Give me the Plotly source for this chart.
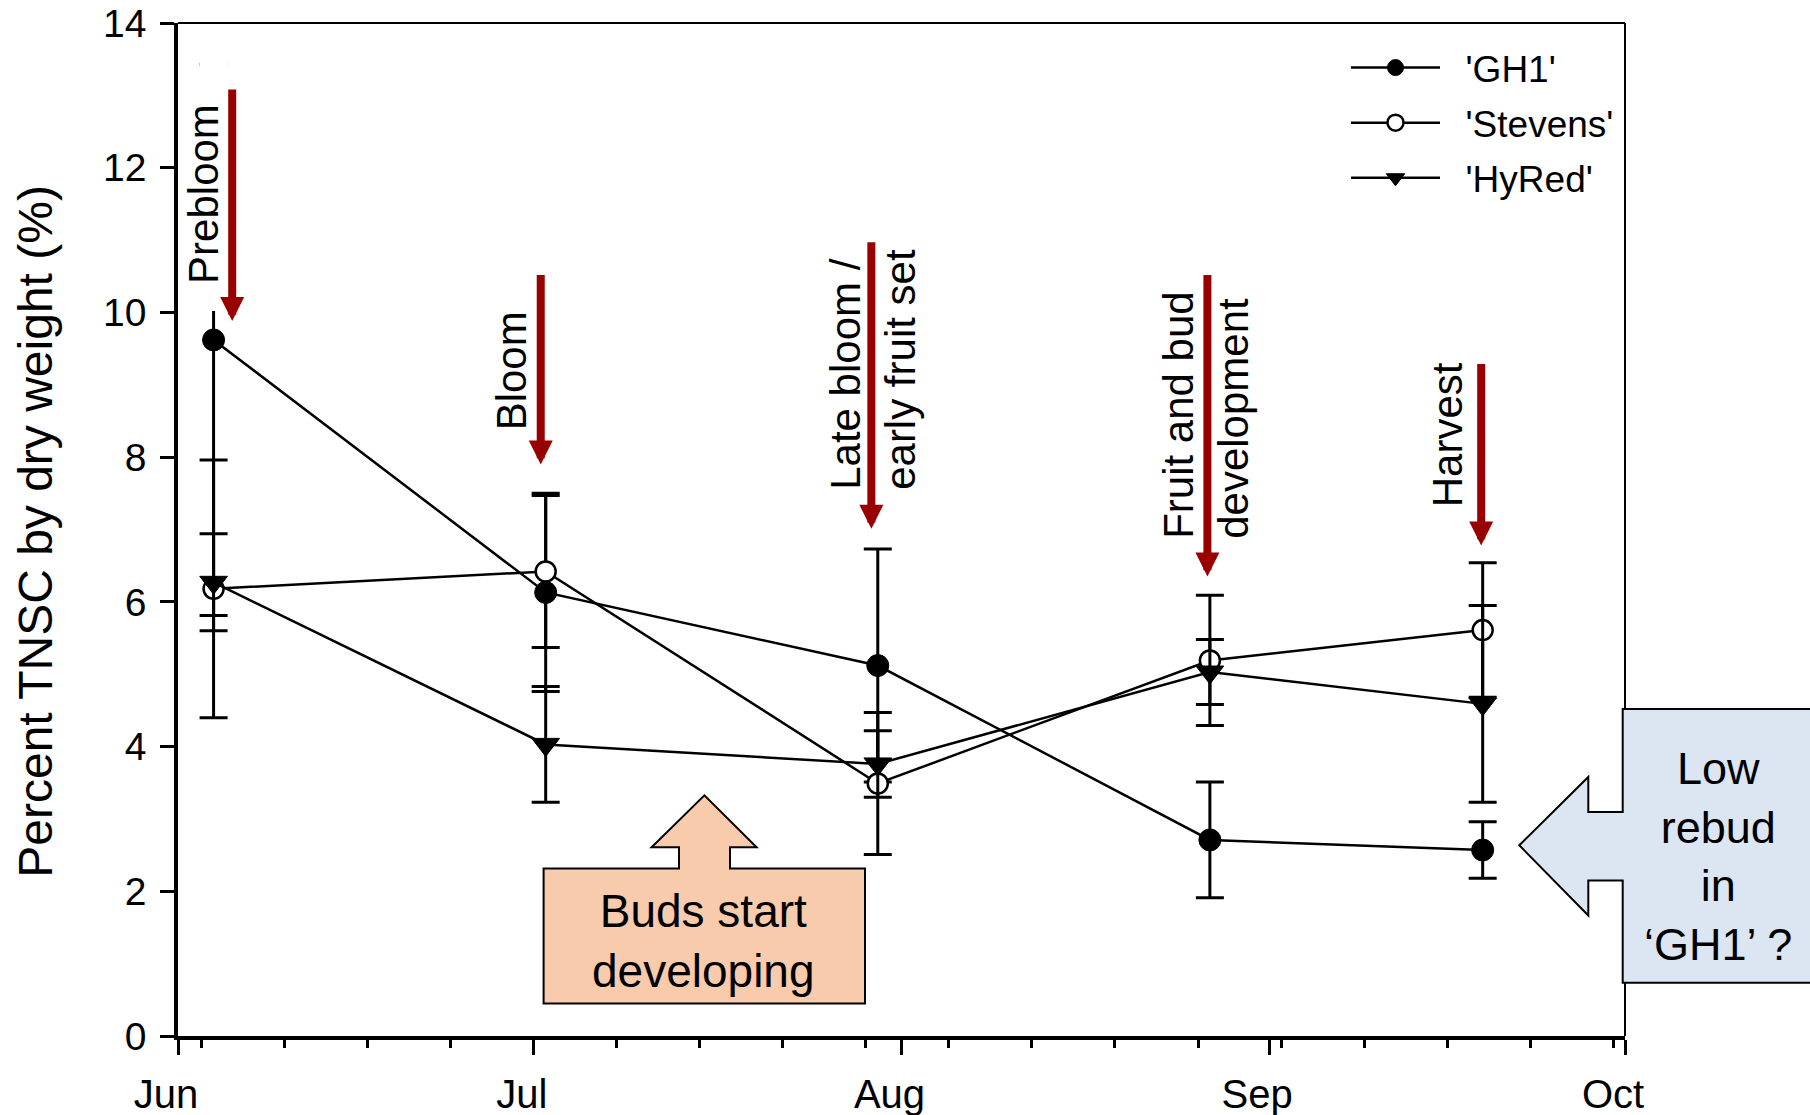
import plotly.graph_objects as go

# ---------------- data ----------------
sample_dates = ["2015-06-04", "2015-07-02", "2015-07-30", "2015-08-27", "2015-09-19"]

gh1 = [9.62, 6.13, 5.12, 2.71, 2.57]
gh1_err = [3.81, 1.37, 1.61, 0.80, 0.39]

stevens = [6.18, 6.42, 3.49, 5.19, 5.61]
stevens_err = [1.78, 1.05, 0.98, 0.90, 0.93]

hyred = [6.27, 4.03, 3.76, 5.03, 4.59]
hyred_err = [0.67, 0.80, 0.46, 0.45, 1.36]

month_ticks = ["2015-06-01", "2015-07-01", "2015-08-01", "2015-09-01", "2015-10-01"]
month_labels = ["Jun", "Jul", "Aug", "Sep", "Oct"]
y_ticks = [0, 2, 4, 6, 8, 10, 12, 14]

stage_labels = ["Prebloom", "Bloom", "Late bloom /<br>early fruit set",
                "Fruit and bud<br>development", "Harvest"]
stage_arrow_x = ["2015-06-05 13:40", "2015-07-01 14:00", "2015-07-29 11:00",
                 "2015-08-26 19:00", "2015-09-18 21:00"]
stage_arrow_y = [9.88, 7.90, 7.01, 6.35, 6.78]
stage_arrow_len = [233, 191, 288, 303, 183]
stage_label_pos = [(204, 194), (511.5, 371), (873, 370), (1206, 415), (1447.5, 435)]

FONT = "Liberation Sans, Arial, sans-serif"
W, H = 1810, 1115
L, R, T, B = 178, 1625, 23, 1036.5


def px(x):
    return (x - L) / (R - L)


def py(y):
    return (B - y) / (B - T)


fig = go.Figure()

common_err = dict(type="data", visible=True, color="black", thickness=3, width=14)
NB = "\u00a0\u00a0"

fig.add_trace(go.Scatter(
    x=sample_dates, y=gh1, name=NB + "'GH1'", mode="lines+markers",
    line=dict(color="black", width=2.5),
    marker=dict(symbol="circle", size=22, color="black", line=dict(color="black", width=1)),
    error_y=dict(array=gh1_err, **common_err), legendgroup="a"))

fig.add_trace(go.Scatter(
    x=sample_dates, y=stevens, name=NB + "'Stevens'", mode="lines+markers",
    line=dict(color="black", width=2.5),
    marker=dict(symbol="circle", size=20, color="white", line=dict(color="black", width=2.5)),
    error_y=dict(array=stevens_err, **common_err), legendgroup="b"))

fig.add_trace(go.Scatter(
    x=sample_dates, y=hyred, name=NB + "'HyRed'", mode="lines+markers",
    line=dict(color="black", width=2.5),
    marker=dict(symbol="triangle-down", size=24, color="black", line=dict(color="black", width=1)),
    error_y=dict(array=hyred_err, **common_err), legendgroup="c"))

shapes = []
# occluding white box (label background) over the top of the first GH1 error bar
shapes.append(dict(type="rect", xref="x", yref="y", x0="2015-06-02 19:30", x1="2015-06-05 05:00",
                   y0=10.02, y1=13.7, fillcolor="white", line=dict(width=0), layer="above"))
# top and right frame
shapes.append(dict(type="line", xref="paper", yref="paper", x0=0, x1=1, y0=1, y1=1,
                   line=dict(color="black", width=2), layer="above"))
shapes.append(dict(type="line", xref="paper", yref="paper", x0=1, x1=1, y0=0, y1=1,
                   line=dict(color="black", width=2), layer="above"))


def path_from_px(points):
    s = ""
    for i, (a, b) in enumerate(points):
        s += ("M" if i == 0 else "L") + f"{px(a):.5f},{py(b):.5f} "
    return s + "Z"


buds_pts = [(543.6, 1004), (543.6, 869), (679, 869), (679, 847.7), (651.6, 847.7),
            (704.4, 795.7), (756.6, 847.7), (730, 847.7), (730, 869), (865, 869), (865, 1004)]
shapes.append(dict(type="path", xref="paper", yref="paper", path=path_from_px(buds_pts),
                   fillcolor="#F8CBAD", line=dict(color="black", width=2), layer="above"))

low_pts = [(1519.3, 845.7), (1588.3, 777.3), (1588.3, 812.3), (1622.7, 812.3), (1622.7, 709.3),
           (1815, 709.3), (1815, 983.3), (1622.7, 983.3), (1622.7, 881), (1588.3, 881), (1588.3, 916)]
shapes.append(dict(type="path", xref="paper", yref="paper", path=path_from_px(low_pts),
                   fillcolor="#DCE6F2", line=dict(color="black", width=2), layer="above"))

annotations = []
# y-axis title
annotations.append(dict(text="Percent TNSC by dry weight (%)", xref="paper", yref="paper",
                        x=px(36), y=py(532), textangle=-90, showarrow=False,
                        font=dict(size=48, color="black", family=FONT),
                        xanchor="center", yanchor="middle"))
# stage arrows
for ax_, ay_, ln in zip(stage_arrow_x, stage_arrow_y, stage_arrow_len):
    annotations.append(dict(x=ax_, y=ay_, xref="x", yref="y", text="", showarrow=True,
                            arrowhead=2, arrowsize=0.6, arrowwidth=8, arrowcolor="#990000",
                            ax=0, ay=-ln, axref="pixel", ayref="pixel", standoff=0))
# stage labels
for txt, (lx, ly) in zip(stage_labels, stage_label_pos):
    annotations.append(dict(text=txt, xref="paper", yref="paper", x=px(lx), y=py(ly),
                            textangle=-90, showarrow=False, align="left",
                            font=dict(size=42, color="black", family=FONT),
                            xanchor="center", yanchor="middle"))
# callout texts
annotations.append(dict(text="Buds start<br>developing", xref="paper", yref="paper",
                        x=px(703), y=py(941), showarrow=False, align="center",
                        font=dict(size=46, color="black", family=FONT),
                        xanchor="center", yanchor="middle"))
annotations.append(dict(text="Low<br>rebud<br>in<br>\u2018GH1\u2019 ?", xref="paper", yref="paper",
                        x=px(1717.6), y=py(856.5), showarrow=False, align="center",
                        font=dict(size=45, color="black", family=FONT),
                        xanchor="center", yanchor="middle"))

fig.update_layout(
    width=W, height=H,
    margin=dict(l=L, r=W - R, t=T, b=H - B, pad=0, autoexpand=False),
    paper_bgcolor="white", plot_bgcolor="white",
    font=dict(family=FONT, color="black"),
    shapes=shapes, annotations=annotations,
    showlegend=True,
    legend=dict(x=px(1346), y=py(37), xanchor="left", yanchor="top",
                font=dict(size=37, family=FONT, color="black"),
                itemwidth=89, tracegroupgap=4, traceorder="grouped",
                bgcolor="rgba(0,0,0,0)", borderwidth=0),
    xaxis=dict(type="date", range=["2015-06-01", "2015-10-01"], automargin=False,
               tickmode="array", tickvals=month_ticks, ticktext=month_labels,
               ticks="outside", ticklen=15, tickwidth=2.5, tickcolor="black",
               tickfont=dict(size=40, family=FONT, color="black"),
               ticklabelshift=-12, ticklabelstandoff=5,
               minor=dict(ticks="outside", ticklen=8, tickwidth=2.5, tickcolor="black",
                          tick0="2015-06-03", dtick=7 * 86400000, showgrid=False),
               showline=True, linecolor="black", linewidth=3.5,
               showgrid=False, zeroline=False),
    yaxis=dict(range=[0, 14], tickmode="array", tickvals=y_ticks, automargin=False,
               ticks="outside", ticklen=14, tickwidth=3, tickcolor="black",
               tickfont=dict(size=39, family=FONT, color="black"),
               ticklabelstandoff=6,
               showline=True, linecolor="black", linewidth=3.5,
               showgrid=False, zeroline=False),
)

fig.write_html("out.html", config={"displayModeBar": False},
               post_script="document.body.style.margin='0';document.body.style.overflow='hidden';")
